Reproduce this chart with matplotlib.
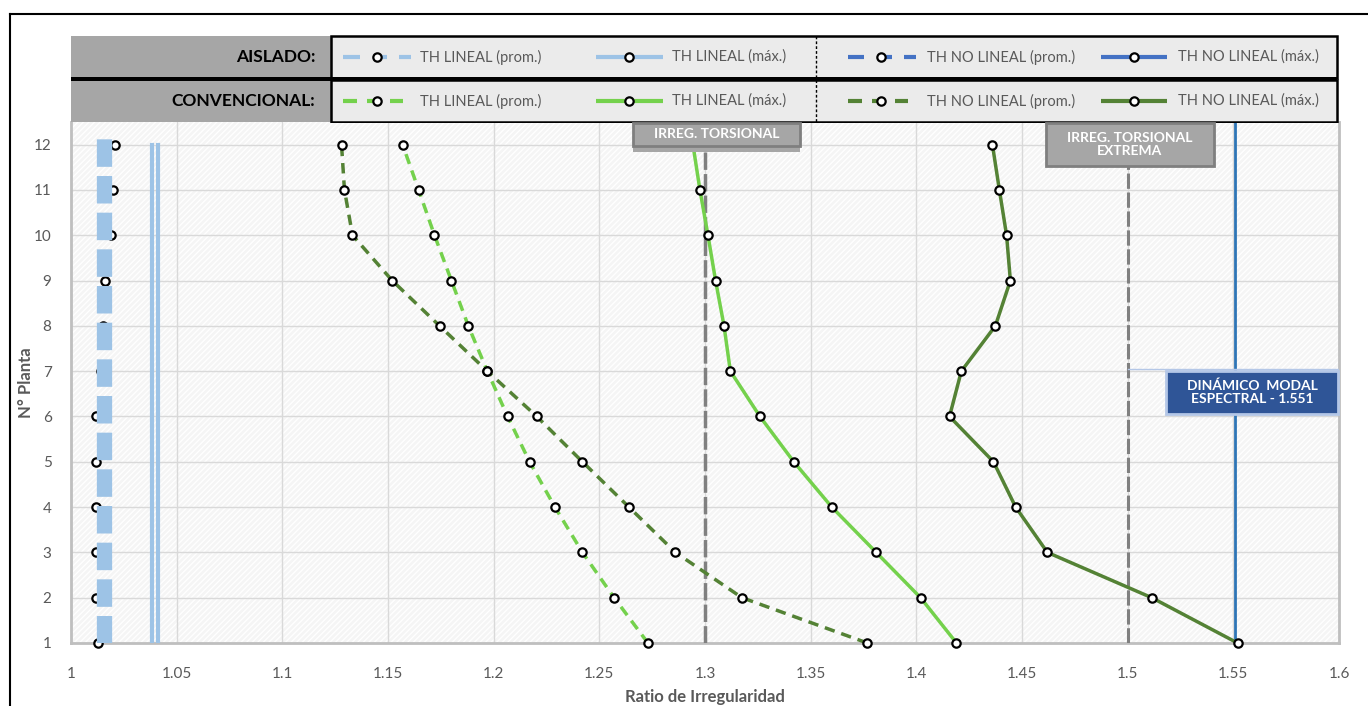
import numpy as np
import matplotlib.pyplot as plt
from matplotlib.patches import Rectangle
from matplotlib.lines import Line2D

plt.rcParams['font.family'] = ['Lato', 'DejaVu Sans']

# datos (ratio de irregularidad por planta)
pisos = np.arange(1, 13)

ais_lin_prom = [1.013, 1.012, 1.012, 1.012, 1.012, 1.012, 1.014, 1.015, 1.016, 1.019, 1.020, 1.021]
ais_lin_prom_linea = 1.0155
ais_max = [1.0385, 1.041]

conv_lin_prom = [1.273, 1.257, 1.242, 1.229, 1.217, 1.2066, 1.197, 1.188, 1.180, 1.172, 1.1645, 1.1569]
conv_nolin_prom = [1.3768, 1.3175, 1.286, 1.264, 1.242, 1.2204, 1.197, 1.1744, 1.152, 1.1332, 1.1294, 1.128]
conv_lin_max = [1.419, 1.402, 1.381, 1.360, 1.342, 1.326, 1.312, 1.309, 1.305, 1.3014, 1.2976, 1.2943]
conv_nolin_max = [1.552, 1.5114, 1.462, 1.447, 1.4365, 1.4157, 1.4213, 1.4374, 1.4445, 1.4427, 1.4393, 1.436]

lim_torsional = 1.3
lim_extrema = 1.5
dinamico = 1.551

xticks = [1, 1.05, 1.1, 1.15, 1.2, 1.25, 1.3, 1.35, 1.4, 1.45, 1.5, 1.55, 1.6]
xticklabels = ['1', '1.05', '1.1', '1.15', '1.2', '1.25', '1.3', '1.35', '1.4', '1.45', '1.5', '1.55', '1.6']

c_azul_cl = '#9dc3e6'
c_azul = '#4472c4'
c_azul_din = '#2e75b6'
c_verde_cl = '#74d14c'
c_verde = '#548235'
c_gris_txt = '#595959'

W, H = 1368, 706
fig = plt.figure(figsize=(W / 100, H / 100), dpi=100)

def fx(px):
    return px / W

def fy(py):
    return 1 - py / H

# marco exterior
fig.add_artist(Line2D([fx(10), fx(10)], [fy(14), 0], color='black', lw=1.5))
fig.add_artist(Line2D([fx(10), 1], [fy(14), fy(14)], color='black', lw=1.5))

ax = fig.add_axes([fx(71), fy(643), fx(1339) - fx(71), fy(122) - fy(643)])
ax.set_facecolor('#f5f5f5')
ax.add_patch(Rectangle((0, 0), 1, 1, transform=ax.transAxes, facecolor='none',
                       edgecolor='#ffffff', hatch='//////', lw=0, zorder=0))
ax.set_xlim(1, 1.6)
ax.set_ylim(1, 12.5)
ax.set_xticks(xticks)
ax.set_xticklabels(xticklabels)
ax.set_yticks(pisos)
ax.grid(True, color='#d9d9d9', lw=1)
ax.set_axisbelow(True)
ax.tick_params(length=0, labelsize=11, colors=c_gris_txt)
ax.tick_params(axis='x', pad=17)
ax.tick_params(axis='y', pad=14)
for s in ['left', 'bottom', 'right']:
    ax.spines[s].set_color('#bfbfbf')
    ax.spines[s].set_linewidth(2)
ax.spines['top'].set_visible(False)

mk = dict(marker='o', markersize=6, markerfacecolor='white', markeredgecolor='black',
          markeredgewidth=1.6, clip_on=False, zorder=5)

# aislado
ax.plot(ais_lin_prom, pisos, ls='none', **dict(mk, zorder=3))
ax.plot([ais_lin_prom_linea] * 2, [1, 12.25], color=c_azul_cl, lw=11, dashes=(1.8, 0.6), zorder=4)
for v in ais_max:
    ax.plot([v, v], [1, 12], color=c_azul_cl, lw=3, zorder=3)

# convencional
ax.plot(conv_lin_prom, pisos, color=c_verde_cl, lw=2.5, dashes=(3, 2), **mk)
ax.plot(conv_nolin_prom, pisos, color=c_verde, lw=2.5, dashes=(3, 2), **mk)
ax.plot(conv_lin_max, pisos, color=c_verde_cl, lw=2.5, **mk)
ax.plot(conv_nolin_max, pisos, color=c_verde, lw=2.5, **mk)

# limites
ax.plot([lim_torsional] * 2, [1, 12.5], color='#808080', lw=2.5, dashes=(5, 1.2), zorder=4)
ax.plot([lim_extrema] * 2, [1, 12.5], color='#808080', lw=2.2, dashes=(5, 1.2), zorder=4)
ax.plot([dinamico] * 2, [1, 12.5], color=c_azul_din, lw=2, zorder=4)
ax.plot([lim_extrema, 1.6], [7.05, 7.05], color='#b4c7e7', lw=1, zorder=4)

ax.set_xlabel('Ratio de Irregularidad', fontsize=12, fontweight='bold', color=c_gris_txt, labelpad=6)
ax.set_ylabel('N° Planta', fontsize=12, fontweight='bold', color=c_gris_txt, labelpad=0)

# cajas de anotacion (en pixeles de figura)
def caja(x0, y0, x1, y1, texto, fc, ec, fs=10):
    fig.add_artist(Rectangle((fx(x0), fy(y1)), fx(x1 - x0), fy(y0) - fy(y1), facecolor=fc,
                             edgecolor=ec, lw=2, transform=fig.transFigure, zorder=10))
    fig.text(fx((x0 + x1) / 2), fy((y0 + y1) / 2), texto, ha='center', va='center', color='white',
             fontsize=fs, fontweight='bold', linespacing=1.1, zorder=11)

fig.add_artist(Rectangle((fx(633), fy(152)), fx(800 - 633), fy(146) - fy(152), facecolor='#a6a6a6',
                         edgecolor='none', transform=fig.transFigure, zorder=9))
caja(633, 123, 800, 146, 'IRREG. TORSIONAL', '#a6a6a6', '#7f7f7f')
caja(1046, 123, 1214, 166, 'IRREG. TORSIONAL\nEXTREMA', '#a6a6a6', '#7f7f7f')
caja(1166, 371, 1338, 414, 'DINÁMICO  MODAL\nESPECTRAL - 1.551', '#2f5597', '#b4c7e7')

# tabla de leyenda
lg = fig.add_axes([fx(71), fy(123), fx(1339) - fx(71), fy(35) - fy(123)])
lg.set_xlim(71, 1339)
lg.set_ylim(123, 35)
lg.axis('off')

filas = [(36, 78, 'AISLADO:', [c_azul_cl, c_azul_cl, c_azul, c_azul]),
         (80, 122, 'CONVENCIONAL:', [c_verde_cl, c_verde_cl, c_verde, c_verde])]
nombres = ['TH LINEAL (prom.)', 'TH LINEAL (máx.)', 'TH NO LINEAL (prom.)', 'TH NO LINEAL (máx.)']
# (tramos de linea, x marcador, x texto)
muestras = [
    [([(343, 360), (376, 387), (399, 411)], 377, 420), ([(596, 663)], 629, 672),
     ([(848, 864), (881, 892), (904, 916)], 881, 927), ([(1101, 1167)], 1134, 1178)],
    [([(343, 357), (367, 377), (390, 403)], 377, 420), ([(596, 663)], 629, 672),
     ([(848, 862), (872, 881), (895, 908)], 881, 927), ([(1101, 1167)], 1134, 1178)],
]
for i, (y0, y1, titulo, colores) in enumerate(filas):
    lg.add_patch(Rectangle((71, y0), 260, y1 - y0, facecolor='#a6a6a6', edgecolor='none'))
    lg.add_patch(Rectangle((331, y0), 1006, y1 - y0, facecolor='#ebebeb', edgecolor='black', lw=1.8))
    lg.text(315, (y0 + y1) / 2, titulo, ha='right', va='center', fontsize=12.5, fontweight='bold', color='black')
    ym = (y0 + y1) / 2
    for j, (tramos, m, t) in enumerate(muestras[i]):
        for a, b in tramos:
            lg.plot([a, b], [ym, ym], color=colores[j], lw=3, solid_capstyle='butt')
        lg.plot([m], [ym], ls='none', marker='o', markersize=6, markerfacecolor='white',
                markeredgecolor='black', markeredgewidth=1.6)
        lg.text(t, ym, nombres[j], ha='left', va='center', fontsize=10.5, color=c_gris_txt)
lg.add_patch(Rectangle((71, 77), 1266, 4, facecolor='black', edgecolor='none'))
lg.plot([816, 816], [36, 122], color='black', lw=1, ls=(0, (2, 1.5)))

fig.savefig('out.png', dpi=100)
